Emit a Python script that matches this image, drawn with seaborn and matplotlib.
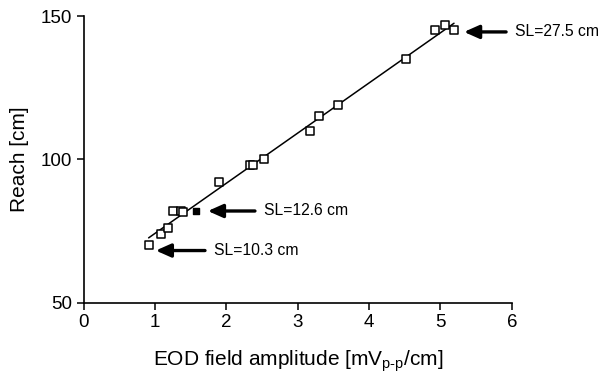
import numpy as np
import pandas as pd
import seaborn as sns
import matplotlib.pyplot as plt

# open squares
amp = [0.91, 1.08, 1.18, 1.25, 1.36, 1.39, 1.90, 2.33, 2.37, 2.53, 3.17, 3.30, 3.57, 4.52, 4.93, 5.06, 5.19]
reach = [70, 74, 76, 82, 82, 81.6, 92, 98, 98, 100, 110, 115, 119, 135, 145, 147, 145]
# filled square
amp_f = [1.57]
reach_f = [82]

notes = ['SL=27.5 cm', 'SL=12.6 cm', 'SL=10.3 cm']
note_tip = [(5.33, 144.5), (1.74, 82), (1.01, 68.2)]
note_tail = [(5.92, 144.5), (2.40, 82), (1.70, 68.2)]

df = pd.DataFrame({'amp': amp, 'reach': reach})

sns.set_style('ticks')
plt.rcParams['font.family'] = ['Liberation Sans', 'DejaVu Sans']
plt.rcParams['mathtext.fontset'] = 'custom'
plt.rcParams['mathtext.rm'] = 'Liberation Sans'
plt.rcParams['text.color'] = 'black'
plt.rcParams['axes.labelcolor'] = 'black'
plt.rcParams['xtick.color'] = 'black'
plt.rcParams['ytick.color'] = 'black'

fig = plt.figure(figsize=(6, 3.76), dpi=100)
ax = fig.add_axes([0.1395, 0.195, 0.7135, 0.762])

sns.regplot(data=df, x='amp', y='reach', scatter=False, ci=None,
            line_kws={'color': 'black', 'lw': 1.1}, ax=ax)
sns.scatterplot(data=df, x='amp', y='reach', marker='s', s=36,
                facecolor='white', edgecolor='black', linewidth=1.1,
                ax=ax, clip_on=False, zorder=3)
ax.scatter(amp_f, reach_f, marker='s', s=18, color='black', zorder=3)

for txt, tip, tail in zip(notes, note_tip, note_tail):
    ax.annotate('', xy=tip, xytext=tail,
                arrowprops=dict(arrowstyle='-|>,head_length=0.9,head_width=0.4',
                                color='black', lw=2.4, shrinkA=0, shrinkB=0),
                annotation_clip=False)
    ax.text(tail[0] + 0.13, tail[1], txt, fontsize=11.3, va='center',
            ha='left', clip_on=False)

ax.set_xlim(0, 6)
ax.set_ylim(50, 150)
ax.set_xticks(range(0, 7))
ax.set_yticks([50, 100, 150])
ax.set_xlabel('EOD field amplitude [mV$_{\\mathrm{p\u2010p}}$/cm]', fontsize=15, labelpad=12)
ax.set_ylabel('Reach [cm]', fontsize=15, labelpad=8)
ax.tick_params(labelsize=13.5, length=5, width=1.1, color='black', labelcolor='black')
for s in ['left', 'bottom']:
    ax.spines[s].set_linewidth(1.2)
    ax.spines[s].set_color('black')
sns.despine(ax=ax)

fig.savefig('out.png', dpi=100)
